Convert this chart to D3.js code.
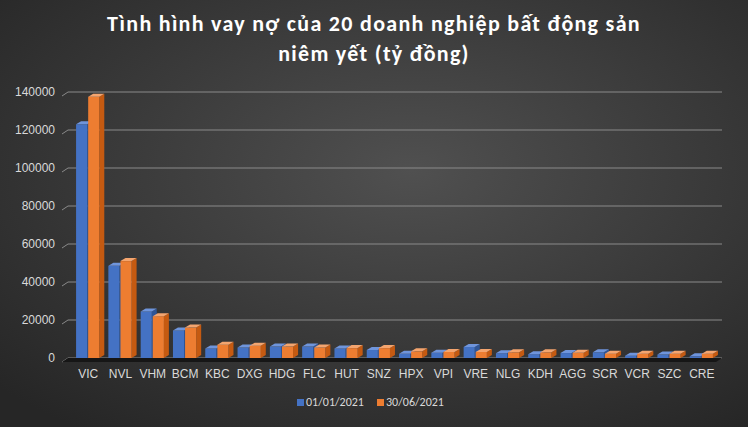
<!DOCTYPE html>
<html><head><meta charset="utf-8">
<script src="https://cdn.jsdelivr.net/npm/d3@7"></script>
<style>body{margin:0;background:#333;}svg{display:block;font-family:Calibri,"Liberation Sans",Carlito,sans-serif;}</style>
</head><body><div id="chart"></div>
<script>
const categories = ["VIC","NVL","VHM","BCM","KBC","DXG","HDG","FLC","HUT","SNZ","HPX","VPI","VRE","NLG","KDH","AGG","SCR","VCR","SZC","CRE"];
const jan2021 = [123000,48500,24500,14500,5000,5500,6000,6000,5000,4200,2200,2800,5800,2500,2000,2600,3000,1200,1800,900];
const jun2021 = [137500,51000,22000,16000,7000,6500,6000,5500,5200,5200,3500,3200,3200,3000,3000,2700,2300,2300,2300,2300];
const seriesNames = ["01/01/2021","30/06/2021"];
const yTicks = [0,20000,40000,60000,80000,100000,120000,140000];

const W = 748, H = 427;
const margin = { top: 92, right: 26, bottom: 69, left: 68 };
const svg = d3.select("#chart").append("svg").attr("width", W).attr("height", H);
const defs = svg.append("defs");
const rg = defs.append("radialGradient").attr("id","bg").attr("cx","55%").attr("cy","40%").attr("r","75%");
rg.append("stop").attr("offset","0%").attr("stop-color","#505050");
rg.append("stop").attr("offset","100%").attr("stop-color","#262626");
svg.append("rect").attr("width",W).attr("height",H).attr("fill","url(#bg)");

svg.append("text").attr("x",W/2).attr("y",31).attr("text-anchor","middle").attr("fill","#fff")
  .attr("font-size",22).attr("font-weight","bold").attr("letter-spacing",1.3).text("Tình hình vay nợ của 20 doanh nghiệp bất động sản");
svg.append("text").attr("x",W/2).attr("y",61).attr("text-anchor","middle").attr("fill","#fff")
  .attr("font-size",22).attr("font-weight","bold").attr("letter-spacing",1.3).text("niêm yết (tỷ đồng)");

const width = W - margin.left - margin.right;
const height = H - margin.top - margin.bottom;
const g = svg.append("g").attr("transform", `translate(${margin.left},${margin.top})`);
const x = d3.scaleBand().domain(categories).range([0, width]).paddingInner(0.25).paddingOuter(0.25);
const y = d3.scaleLinear().domain([0, 140000]).range([height, 0]);
const dx = 5, dy = -3;

yTicks.forEach(t => {
  g.append("path").attr("d", `M${-6},${y(t)+4} L0,${y(t)} L${width},${y(t)}`)
    .attr("fill","none").attr("stroke","#8a8a8a").attr("stroke-width",1);
});
g.append("path").attr("d", `M-6,${height+4} L0,${height} L${width},${height} L${width-6},${height+4} Z`).attr("fill","#161616");

g.append("g").attr("transform","translate(-10,0)")
  .call(d3.axisLeft(y).tickValues(yTicks).tickSize(0).tickFormat(d3.format("d")))
  .call(a => a.select(".domain").remove())
  .selectAll("text").attr("fill","#d9d9d9").attr("font-size",12);

const bw = x.bandwidth() / 2 - 1;
const colors = [["#4472c4","#6f95dc","#2f5597"],["#ed7d31","#f4a56f","#c55a11"]];
[jan2021, jun2021].forEach((vals, s) => {
  const bars = g.append("g").selectAll("g").data(categories).join("g");
  bars.each(function(c, i) {
    const v = vals[i];
    const x0 = x(c) + s * (bw + 1), y0 = y(v), h = height - y0;
    const sel = d3.select(this);
    sel.append("path").attr("d", `M${x0+bw},${y0} l${dx},${dy} l0,${h} l${-dx},${-dy} Z`).attr("fill", colors[s][2]);
    sel.append("rect").attr("x", x0).attr("y", y0).attr("width", bw).attr("height", h).attr("fill", colors[s][0]);
    sel.append("path").attr("d", `M${x0},${y0} l${dx},${dy} l${bw},0 l${-dx},${-dy} Z`).attr("fill", colors[s][1]);
  });
});

g.append("g").attr("transform", `translate(0,${height+6})`)
  .call(d3.axisBottom(x).tickSize(0))
  .call(a => a.select(".domain").remove())
  .selectAll("text").attr("fill","#d9d9d9").attr("font-size",12).attr("dy","0.9em");

const leg = svg.append("g").attr("transform", "translate(297,406)");
seriesNames.forEach((n, i) => {
  const lg = leg.append("g").attr("transform", `translate(${i*80},0)`);
  lg.append("rect").attr("x",0).attr("y",-7).attr("width",7).attr("height",7).attr("fill",colors[i][0]);
  lg.append("text").attr("x",9).attr("y",0).attr("fill","#d9d9d9").attr("font-size",12).text(n);
});
</script></body></html>
